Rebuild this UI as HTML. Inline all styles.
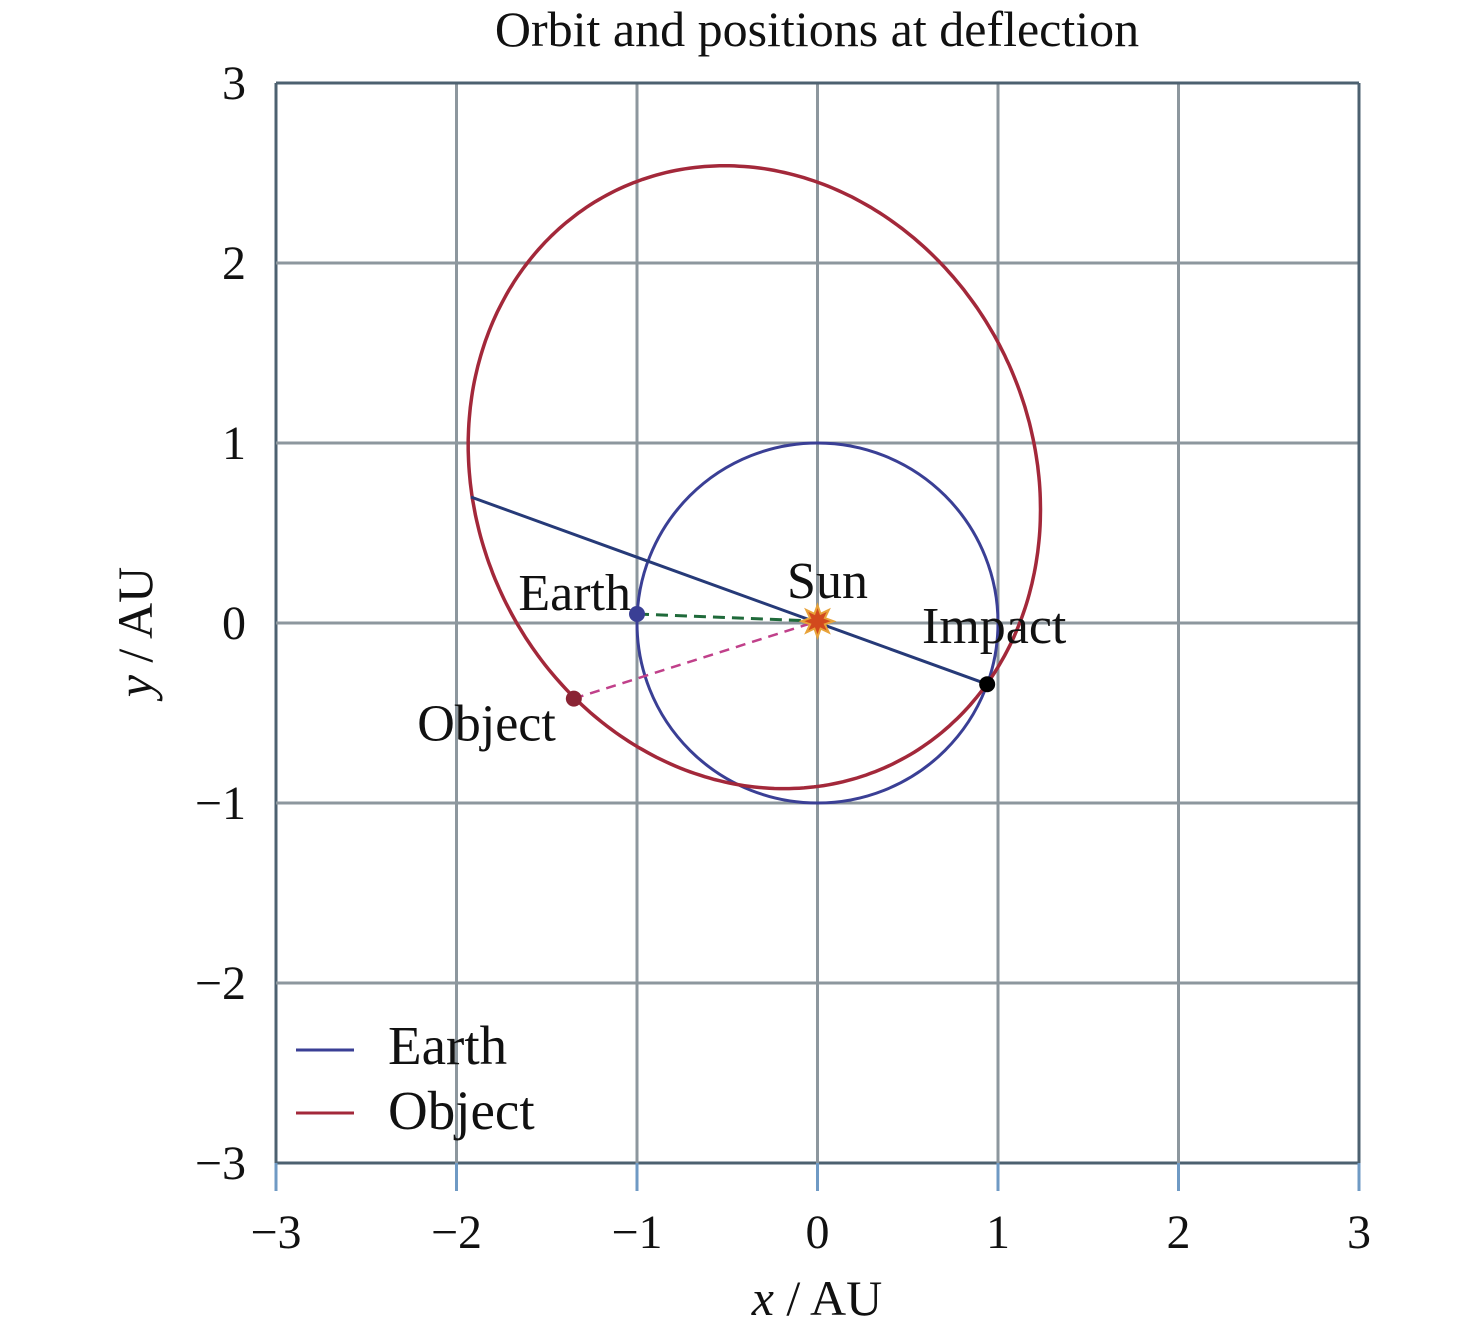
<!DOCTYPE html>
<html><head><meta charset="utf-8"><style>
html,body{margin:0;padding:0;background:#fff;}
svg{display:block;font-family:"Liberation Serif",serif;}
</style></head><body>
<svg id="chart" width="1476" height="1332" viewBox="0 0 1476 1332">
<text x="817" y="46" font-size="50" text-anchor="middle" fill="#111">Orbit and positions at deflection</text>
<g id="grid"></g>
<g id="ticks"></g>
<g id="series"></g>
<text x="817" y="1315" font-size="50" text-anchor="middle" fill="#111"><tspan font-style="italic">x</tspan> / AU</text>
<text transform="translate(152,632) rotate(-90)" font-size="50" text-anchor="middle" fill="#111"><tspan font-style="italic">y</tspan> / AU</text>
<g>
<line x1="296" y1="1050" x2="354" y2="1050" stroke="#3a3f95" stroke-width="3"/>
<text x="388" y="1064" font-size="55" fill="#111">Earth</text>
<line x1="296" y1="1113" x2="354" y2="1113" stroke="#a3283a" stroke-width="3"/>
<text x="388" y="1129" font-size="55" fill="#111">Object</text>
</g>
</svg>
<script>
const ticks=[-3,-2,-1,0,1,2,3];
const tickLabels=["\u22123","\u22122","\u22121","0","1","2","3"];
const objectEllipse=[-0.35,0.81,1.768,1.543,114.9]; // cx, cy, a, b, rotation deg
const earthOrbit=[0,0,1];
const earthPos=[-1.0,0.05];
const objectPos=[-1.35,-0.42];
const impactPos=[0.94,-0.34];
const sunPos=[0,0.01];
const lineStart=[-1.92,0.70];

const X=v=>817.5+v*180.5, Y=v=>623+(-v)*180;
const NS='http://www.w3.org/2000/svg';
function mk(parent,tag,attrs){const e=document.createElementNS(NS,tag);for(const k in attrs)e.setAttribute(k,attrs[k]);parent.appendChild(e);return e;}
const grid=document.getElementById('grid'),tk=document.getElementById('ticks'),se=document.getElementById('series');
ticks.forEach((t,i)=>{
 let l=mk(grid,'line',{x1:X(t),x2:X(t),y1:Y(3),y2:Y(-3),stroke:(t===-3||t===3)?'#4d6170':'#8d979e','stroke-width':3});
 
 
 let l2=mk(grid,'line',{y1:Y(t),y2:Y(t),x1:X(-3),x2:X(3),stroke:(t===-3||t===3)?'#4d6170':'#8d979e','stroke-width':3});
 
 
 let tm=mk(grid,'line',{x1:X(t),x2:X(t),y1:Y(-3),y2:Y(-3)+28,stroke:'#6f9ac4','stroke-width':3});
 
 
 let a=mk(tk,'text',{x:X(t),y:1248,'font-size':48,'text-anchor':'middle',fill:'#111'});a.textContent=tickLabels[i];
 
 
 let b=mk(tk,'text',{x:246,y:Y(t)+16,'font-size':48,'text-anchor':'end',fill:'#111'});b.textContent=tickLabels[i];
 
 
});
let c=mk(se,'ellipse',{cx:X(earthOrbit[0]),cy:Y(earthOrbit[1]),rx:earthOrbit[2]*180.5,ry:earthOrbit[2]*180,fill:'none',stroke:'#3a3f95','stroke-width':3});


let pts=[];const [cx,cy,a,b,rot]=objectEllipse;const r=rot*Math.PI/180;
for(let k=0;k<=360;k++){const t=k*Math.PI/180;const ex=a*Math.cos(t),ey=b*Math.sin(t);
 pts.push(X(cx+ex*Math.cos(r)-ey*Math.sin(r)).toFixed(1)+','+Y(cy+ex*Math.sin(r)+ey*Math.cos(r)).toFixed(1));}
let o=mk(se,'polyline',{points:pts.join(' '),fill:'none',stroke:'#a3283a','stroke-width':3.5});


let al=mk(se,'line',{x1:X(lineStart[0]),y1:Y(lineStart[1]),x2:X(impactPos[0]),y2:Y(impactPos[1]),stroke:'#263a78','stroke-width':3});


let d1=mk(se,'line',{x1:X(earthPos[0]),y1:Y(earthPos[1]),x2:X(sunPos[0]),y2:Y(sunPos[1]),stroke:'#1f6a3a','stroke-width':3,'stroke-dasharray':'12,7'});


let d2=mk(se,'line',{x1:X(objectPos[0]),y1:Y(objectPos[1]),x2:X(sunPos[0]),y2:Y(sunPos[1]),stroke:'#c0408a','stroke-width':2.5,'stroke-dasharray':'10,7'});


let sp=[];for(let k=0;k<16;k++){const rr=k%2?8:16;const t=k*Math.PI/8;sp.push((X(sunPos[0])+rr*Math.cos(t)).toFixed(1)+','+(Y(sunPos[1])+rr*Math.sin(t)).toFixed(1));}
let s=mk(se,'polygon',{points:sp.join(' '),fill:'#d2491d',stroke:'#e8a33a','stroke-width':2});


[[earthPos,'#3a3f95','earth-marker'],[objectPos,'#8a2434','object-marker'],[impactPos,'#000','impact-marker']].forEach(q=>{
 let m=mk(se,'circle',{cx:X(q[0][0]),cy:Y(q[0][1]),r:8,fill:q[1]});
 
 
});
[['Earth',X(earthPos[0])-6,Y(earthPos[1])-4,'end','earth-label'],['Sun',X(sunPos[0])+10,598,'middle','sun-label'],['Impact',922,643,'start','impact-label'],['Object',X(objectPos[0])-18,Y(objectPos[1])+42,'end','object-label']].forEach(q=>{
 let t=mk(se,'text',{x:q[1],y:q[2],'font-size':52,'text-anchor':q[3],fill:'#111'});t.textContent=q[0];
 
 
});
</script>
</body></html>
